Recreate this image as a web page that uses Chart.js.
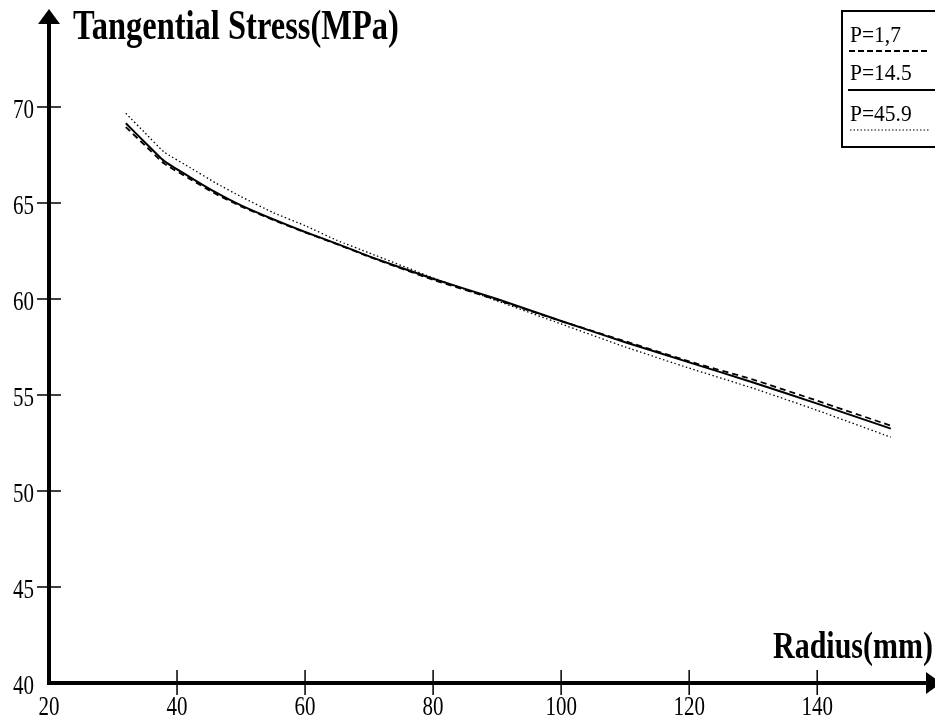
<!DOCTYPE html>
<html>
<head>
<meta charset="utf-8">
<script src="https://cdn.jsdelivr.net/npm/chart.js@4.4.1/dist/chart.umd.min.js"></script>
<style>
  html, body { margin: 0; padding: 0; background: #fff; }
  canvas { display: block; }
</style>
</head>
<body>
<canvas id="stressChart" width="935" height="720"></canvas>
<script>
// values
const radius = [32, 35, 38, 42, 46, 50, 55, 60, 65, 70, 80, 90, 100, 110, 120, 130, 140, 151.5];
const stressP1_7 = [68.95, 68.0, 67.05, 66.25, 65.48, 64.82, 64.12, 63.47, 62.85, 62.2, 61.0, 59.95, 58.85, 57.8, 56.75, 55.8, 54.7, 53.4];
const stressP14_5 = [69.15, 68.15, 67.18, 66.35, 65.56, 64.87, 64.15, 63.49, 62.87, 62.22, 61.05, 60.0, 58.85, 57.75, 56.7, 55.65, 54.55, 53.25];
const stressP45_9 = [69.67, 68.65, 67.65, 66.85, 66.05, 65.33, 64.5, 63.82, 63.05, 62.4, 61.1, 59.9, 58.7, 57.5, 56.4, 55.35, 54.2, 52.8];

const seriesLabels = ['P=1,7', 'P=14.5', 'P=45.9'];
const xTicks = [20, 40, 60, 80, 100, 120, 140];
const yTicks = [40, 45, 50, 55, 60, 65, 70];

const serif = '"Liberation Serif", "Times New Roman", serif';

function drawText(ctx, s, x, y, size, bold, align, sy) {
    ctx.save();
    ctx.translate(x, y);
    ctx.scale(1, sy);
    ctx.font = (bold ? 'bold ' : '') + size + 'px ' + serif;
    ctx.textAlign = align;
    ctx.textBaseline = 'alphabetic';
    ctx.fillStyle = '#000';
    ctx.fillText(s, 0, 0);
    ctx.restore();
}

// axes with arrows, crossing ticks, labels and the boxed legend
const axesPlugin = {
    id: 'axesPlugin',
    afterDraw(chart) {
        const ctx = chart.ctx;
        const xs = chart.scales.x;
        const ys = chart.scales.y;
        const x0 = xs.getPixelForValue(20);
        const y0 = ys.getPixelForValue(40);
        ctx.save();
        ctx.strokeStyle = '#000';
        ctx.fillStyle = '#000';

        // axis lines
        ctx.lineWidth = 4;
        ctx.beginPath();
        ctx.moveTo(x0, y0 + 2);
        ctx.lineTo(x0, 20);
        ctx.moveTo(x0 - 2, y0);
        ctx.lineTo(928, y0);
        ctx.stroke();

        // arrow heads
        ctx.beginPath();
        ctx.moveTo(x0, 9);
        ctx.lineTo(x0 - 11, 24);
        ctx.lineTo(x0 + 11, 24);
        ctx.closePath();
        ctx.fill();
        ctx.beginPath();
        ctx.moveTo(941, y0);
        ctx.lineTo(926, y0 - 11);
        ctx.lineTo(926, y0 + 11);
        ctx.closePath();
        ctx.fill();

        // ticks
        ctx.lineWidth = 1.5;
        ctx.beginPath();
        xTicks.forEach(v => {
            if (v === 20) return;
            const px = xs.getPixelForValue(v);
            ctx.moveTo(px, y0 - 13);
            ctx.lineTo(px, y0 + 12);
        });
        yTicks.forEach(v => {
            if (v === 40) return;
            const py = ys.getPixelForValue(v);
            ctx.moveTo(x0 - 12, py);
            ctx.lineTo(x0 + 12, py);
        });
        ctx.stroke();

        // tick labels
        xTicks.forEach(v => {
            drawText(ctx, String(v), xs.getPixelForValue(v), y0 + 32, 21, false, 'center', 1.3);
        });
        yTicks.forEach(v => {
            drawText(ctx, String(v), 34, ys.getPixelForValue(v) + 11, 21, false, 'right', 1.3);
        });

        // axis titles
        drawText(ctx, 'Tangential Stress(MPa)', 73, 39, 32.5, true, 'left', 1.27);
        drawText(ctx, 'Radius(mm)', 933, 658, 30, true, 'right', 1.27);

        // legend box
        ctx.lineWidth = 2;
        ctx.strokeRect(842, 11, 110, 136);
        const legendRows = [
            { text: seriesLabels[0], base: 42, line: 51, dash: [6, 3], w: 2, x1: 849, x2: 930 },
            { text: seriesLabels[1], base: 80, line: 90, dash: [], w: 2, x1: 848, x2: 935 },
            { text: seriesLabels[2], base: 121, line: 130, dash: [1.5, 2], w: 1.2, x1: 850, x2: 929 }
        ];
        legendRows.forEach(r => {
            drawText(ctx, r.text, 850, r.base, 21.5, false, 'left', 1.08);
            ctx.beginPath();
            ctx.setLineDash(r.dash);
            ctx.lineWidth = r.w;
            ctx.moveTo(r.x1, r.line);
            ctx.lineTo(r.x2, r.line);
            ctx.stroke();
        });
        ctx.setLineDash([]);
        ctx.restore();
    }
};

const toPoints = vals => vals.map((v, i) => ({ x: radius[i], y: v }));

new Chart(document.getElementById('stressChart'), {
    type: 'line',
    data: {
        datasets: [
            {
                label: seriesLabels[0],
                data: toPoints(stressP1_7),
                borderColor: '#000',
                borderWidth: 1.8,
                borderDash: [6, 4],
                pointRadius: 0,
                tension: 0.15
            },
            {
                label: seriesLabels[1],
                data: toPoints(stressP14_5),
                borderColor: '#000',
                borderWidth: 2,
                pointRadius: 0,
                tension: 0.15
            },
            {
                label: seriesLabels[2],
                data: toPoints(stressP45_9),
                borderColor: '#000',
                borderWidth: 1.3,
                borderDash: [1.5, 2.5],
                pointRadius: 0,
                tension: 0.15
            }
        ]
    },
    options: {
        responsive: false,
        animation: false,
        layout: { padding: { left: 49, top: 10, right: 0, bottom: 37 } },
        plugins: { legend: { display: false }, tooltip: { enabled: false } },
        scales: {
            x: { type: 'linear', min: 20, max: 158.4, display: false },
            y: { type: 'linear', min: 40, max: 75.05, display: false }
        }
    },
    plugins: [axesPlugin]
});
</script>
</body>
</html>
